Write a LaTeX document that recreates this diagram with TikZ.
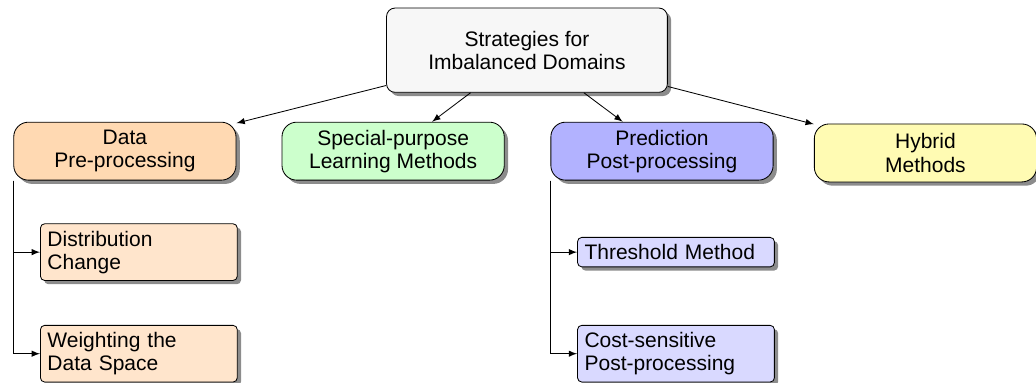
\documentclass[tikz,border=0pt]{standalone}
\usepackage{fontspec}
\setmainfont{Liberation Sans}
\usepackage{tikz}
\usetikzlibrary{arrows,shadows,positioning}

\tikzset{
  every node/.style={font=\fontsize{10pt}{11pt}\selectfont},
  schatten/.style={drop shadow={shadow xshift=1.8pt,shadow yshift=-1.8pt,fill=black!45,opacity=1}},
  haupt/.style={draw,rounded corners=7pt,minimum width=3.72cm,minimum height=0.97cm,align=center,schatten},
  unter/.style={draw,rounded corners=2pt,text width=3.06cm,align=left,anchor=west,schatten},
}

\begin{document}
\begin{tikzpicture}[>=latex]
\useasboundingbox (0,0) rectangle (17.34,-6.41);
%Wurzel
\node[draw,fill=gray!6,rounded corners=4pt,minimum width=4.7cm,minimum height=1.41cm,align=center,schatten] (wurzel) at (8.82,-0.84) {Strategies for\\Imbalanced Domains};
%erste Ebene
\node[haupt,fill=orange!30] (daten) at (2.09,-2.53) {Data\\Pre-processing};
\node[haupt,fill=green!20] (lernen) at (6.58,-2.53) {Special-purpose\\Learning Methods};
\node[haupt,fill=blue!30] (vorhersage) at (11.08,-2.53) {Prediction\\Post-processing};
\node[haupt,fill=yellow!30] (hybrid) at (15.49,-2.56) {Hybrid\\Methods};
%zweite Ebene
\node[unter,fill=orange!20] (verteilung) at (0.67,-4.22) {Distribution\\Change};
\node[unter,fill=orange!20] (gewichte) at (0.67,-5.92) {Weighting the\\Data Space};
\node[unter,fill=blue!15] (schwelle) at (9.66,-4.22) {Threshold Method};
\node[unter,fill=blue!15] (kosten) at (9.66,-5.92) {Cost-sensitive\\Post-processing};
%Pfeile
\foreach \ziel in {daten,lernen,vorhersage,hybrid}{
\draw[->] (wurzel) -- (\ziel);
}
\draw[->] (daten.south west) |- (verteilung.west);
\draw[->] (daten.south west) |- (gewichte.west);
\draw[->] (vorhersage.south west) |- (schwelle.west);
\draw[->] (vorhersage.south west) |- (kosten.west);
\end{tikzpicture}
\end{document}
